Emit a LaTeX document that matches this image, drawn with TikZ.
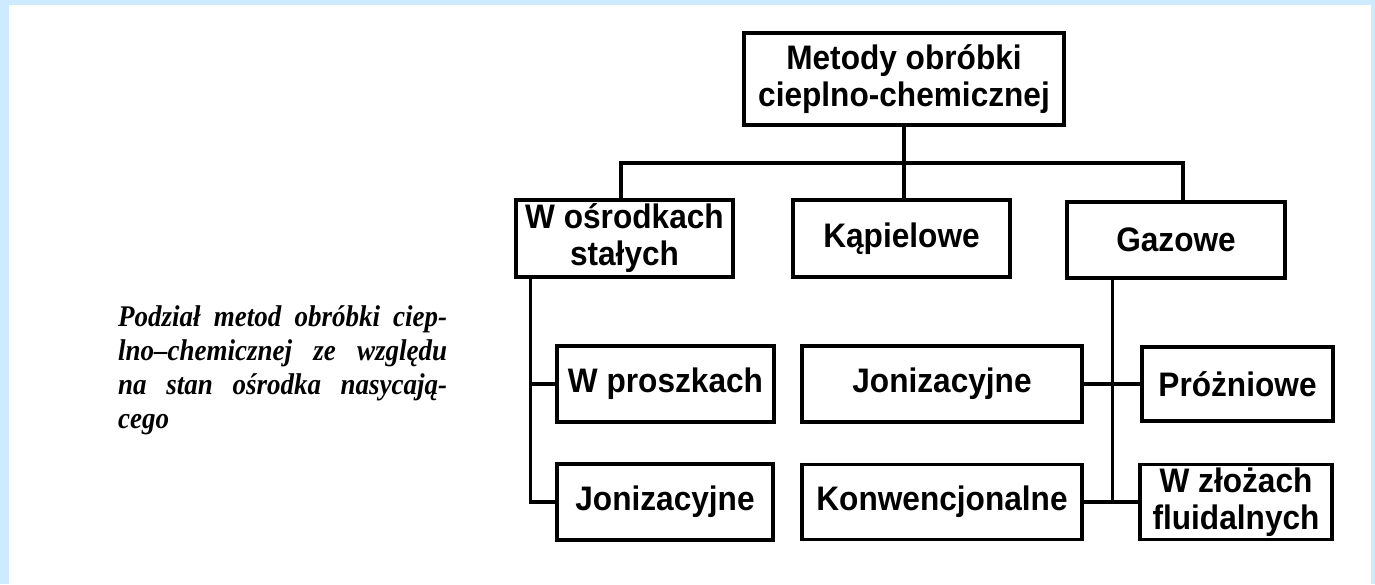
\documentclass[tikz,border=0pt]{standalone}
\usepackage{fontspec}
\setmainfont{Liberation Serif}
\newfontfamily\boxfont{Liberation Sans}[FakeStretch=0.93]
\newfontface\capfont{Liberation Serif Bold Italic}[FakeStretch=0.9]
\definecolor{framebg}{RGB}{204,235,255}
\begin{document}
\begin{tikzpicture}[x=1pt,y=-1pt,
  box/.style={draw, line width=3.2pt, inner sep=0pt, align=center,
    font=\boxfont\bfseries\fontsize{34}{37}\selectfont},
  conn/.style={line width=3.2pt}]
\useasboundingbox (0,0) rectangle (1375,584);
\fill[framebg] (0,0) rectangle (1375,584);
\fill[white] (9,5) rectangle (1371,584);

\node[box, minimum width=320pt, minimum height=92pt] (top) at (904,79) {Metody obróbki\\cieplno-chemicznej};
\node[box, minimum width=217pt, minimum height=77pt] (os) at (624.5,238.5) {W ośrodkach\\stałych};
\node[box, minimum width=217pt, minimum height=77pt] (kap) at (901.5,238.5) {Kąpielowe};
\node[box, minimum width=218pt, minimum height=76pt] (gaz) at (1176,240) {Gazowe};
\node[box, minimum width=217pt, minimum height=76pt] (prosz) at (665.5,384) {W proszkach};
\node[box, minimum width=216pt, minimum height=76pt] (jon1) at (665,502) {Jonizacyjne};
\node[box, minimum width=280pt, minimum height=76pt] (jon2) at (942,384) {Jonizacyjne};
\node[box, minimum width=280pt, minimum height=75pt] (konw) at (942,502) {Konwencjonalne};
\node[box, minimum width=191pt, minimum height=74pt] (proz) at (1237.5,384) {Próżniowe};
\node[box, minimum width=192pt, minimum height=75pt] (zloz) at (1236,502) {W złożach\\fluidalnych};

\node[anchor=north west, inner sep=0pt, text width=329pt, align=justify,
  font=\capfont\fontsize{30}{34}\selectfont] (caption) at (118,305)
  {\hyphenpenalty=10000 \tolerance=10000 Podział metod obróbki ciep-\linebreak lno–chemicznej ze względu\linebreak na stan ośrodka nasycają-\linebreak cego};

\coordinate (bus) at (0,163);
\draw[conn] (top.south) -- (top.south |- kap.north);
\draw[conn] ([xshift=-3.5pt]os.north) |- ([xshift=7pt]gaz.north |- bus) -- ([xshift=7pt]gaz.north);

\coordinate (lt) at ([xshift=16pt]os.south west);
\draw[conn] (lt) |- (jon1.west);
\draw[conn] (prosz.west) -- (prosz.west -| lt);

\coordinate (rt) at ([xshift=47pt]gaz.south west);
\draw[conn] (rt) -- (rt |- zloz.west);
\draw[conn] (jon2.east) -- (proz.west);
\draw[conn] (konw.east) -- (zloz.west);
\end{tikzpicture}
\end{document}
